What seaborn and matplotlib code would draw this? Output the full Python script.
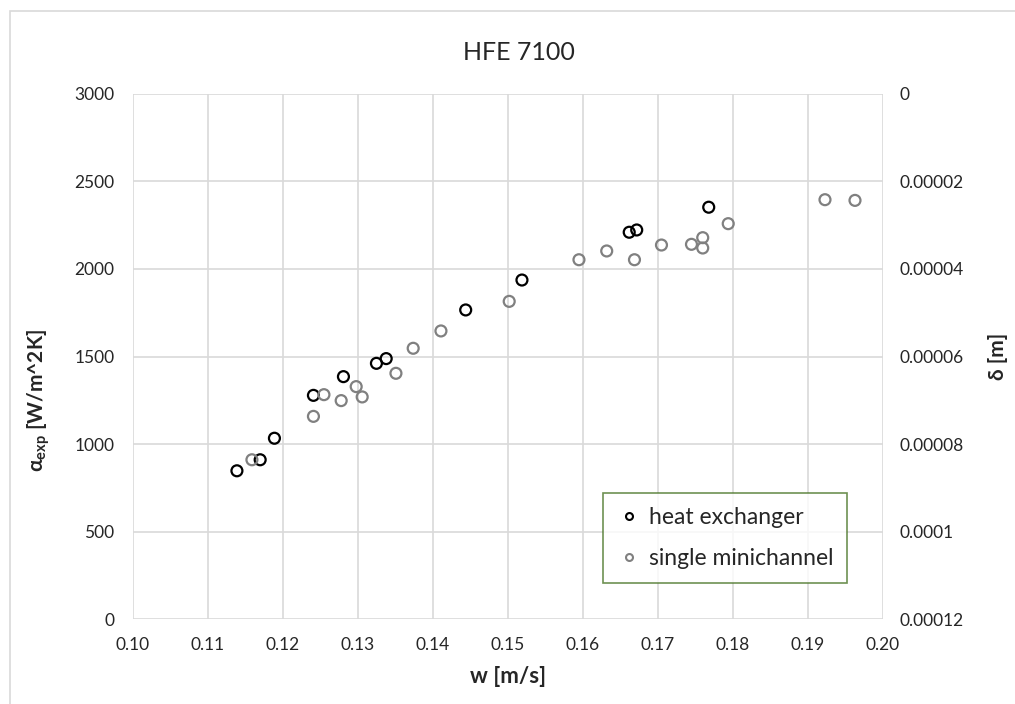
import numpy as np
import pandas as pd
import seaborn as sns
import matplotlib.pyplot as plt
from matplotlib.lines import Line2D
from matplotlib.patches import Rectangle
from matplotlib.ticker import FuncFormatter

# heat exchanger (black)
hx_w = [0.1139, 0.1170, 0.1189, 0.1241, 0.1281, 0.1325, 0.1338, 0.1444,
        0.1519, 0.1662, 0.1672, 0.1768]
hx_alpha = [847, 910, 1033, 1278, 1385, 1461, 1488, 1766,
            1937, 2210, 2223, 2353]

# single minichannel (grey)
mc_w = [0.1159, 0.1241, 0.1255, 0.1278, 0.1298, 0.1306, 0.1351, 0.1374,
        0.1411, 0.1502, 0.1595, 0.1632, 0.1669, 0.1705, 0.1745, 0.1760,
        0.1760, 0.1794, 0.1923, 0.1963]
mc_alpha = [910, 1158, 1282, 1248, 1328, 1269, 1404, 1547,
            1646, 1815, 2053, 2103, 2053, 2137, 2141, 2179,
            2120, 2259, 2396, 2392]

series_names = ["heat exchanger", "single minichannel"]
series_colors = {"heat exchanger": "#000000", "single minichannel": "#808080"}

x_ticks = [0.10, 0.11, 0.12, 0.13, 0.14, 0.15, 0.16, 0.17, 0.18, 0.19, 0.20]
y_ticks = [0, 500, 1000, 1500, 2000, 2500, 3000]
delta_ticks = [0, 0.00002, 0.00004, 0.00006, 0.00008, 0.0001, 0.00012]

df = pd.DataFrame({
    "w": hx_w + mc_w,
    "alpha": hx_alpha + mc_alpha,
    "series": [series_names[0]] * len(hx_w) + [series_names[1]] * len(mc_w),
})

sns.set_style("white")
plt.rcParams["font.family"] = ["Lato", "DejaVu Sans"]
plt.rcParams["mathtext.fontset"] = "custom"
plt.rcParams["mathtext.rm"] = "Lato"
plt.rcParams["mathtext.bf"] = "Lato:bold"
txt = "#262626"
grid_c = "#d9d9d9"

fig = plt.figure(figsize=(10.15, 7.04), dpi=100)
ax = fig.add_axes([0.1307, 0.1207, 0.739, 0.7458])

sns.scatterplot(data=df, x="w", y="alpha", hue="series", palette=series_colors,
                s=62, legend=False, ax=ax, zorder=3)
# hollow markers like the Excel original
for coll in ax.collections:
    fc = coll.get_facecolors()
    coll.set_edgecolors(fc)
    coll.set_facecolors("none")
    coll.set_linewidths(1.6)

ax.set_xlim(0.10, 0.20)
ax.set_ylim(0, 3000)
ax.set_xticks(x_ticks)
ax.set_yticks(y_ticks)
ax.xaxis.set_major_formatter(FuncFormatter(lambda v, p: f"{v:.2f}"))
ax.grid(True, color=grid_c, linewidth=1.2)
ax.set_axisbelow(True)
for s in ax.spines.values():
    s.set_visible(False)
ax.tick_params(axis="both", length=0, labelsize=12.5, colors=txt)
ax.tick_params(axis="x", pad=13)
ax.tick_params(axis="y", pad=13)

ax.set_xlabel("w [m/s]", fontsize=16, fontweight="bold", color=txt)
ax.xaxis.set_label_coords(0.5, -0.09)
ax.set_ylabel(r"α$_{\mathbf{exp}}$ [W/m^2K]", fontsize=15, fontweight="bold", color=txt)
ax.yaxis.set_label_coords(-0.107, 0.417)

ax2 = ax.twinx()
ax2.set_ylim(0.00012, 0)
ax2.set_yticks(delta_ticks)
ax2.yaxis.set_major_formatter(FuncFormatter(
    lambda v, p: "0" if v == 0 else f"{v:.5f}".rstrip("0").rstrip(".")))
for s in ax2.spines.values():
    s.set_visible(False)
ax2.tick_params(axis="y", length=0, labelsize=12.5, colors=txt, pad=12)
ax2.set_ylabel("δ [m]", fontsize=15, fontweight="bold", color=txt, rotation=90)
ax2.yaxis.set_label_coords(1.14, 0.5)

fig.text(519 / 1015, 1 - 52 / 704, "HFE 7100", ha="center", va="center",
         fontsize=18, color=txt)

handles = [Line2D([], [], linestyle="none", marker="o", markersize=5,
                  markerfacecolor="none", markeredgecolor=series_colors[n],
                  markeredgewidth=1.5, label=n) for n in series_names]
leg = ax.legend(handles=handles, loc="upper left", bbox_to_anchor=(0.627, 0.24),
                frameon=True, fancybox=False, fontsize=16.5, handletextpad=0.3,
                handlelength=1.1, borderpad=0.6, labelspacing=0.9,
                borderaxespad=0)
leg.get_frame().set_edgecolor("#4a7527")
leg.get_frame().set_linewidth(1.2)
for t in leg.get_texts():
    t.set_color(txt)

# outer chart border
fig.patches.append(Rectangle((10 / 1015, -0.1), 1.2, 1 - 11 / 704 + 0.1,
                             transform=fig.transFigure, fill=False,
                             edgecolor=grid_c, linewidth=1.2))

fig.savefig("out.png", dpi=100)
